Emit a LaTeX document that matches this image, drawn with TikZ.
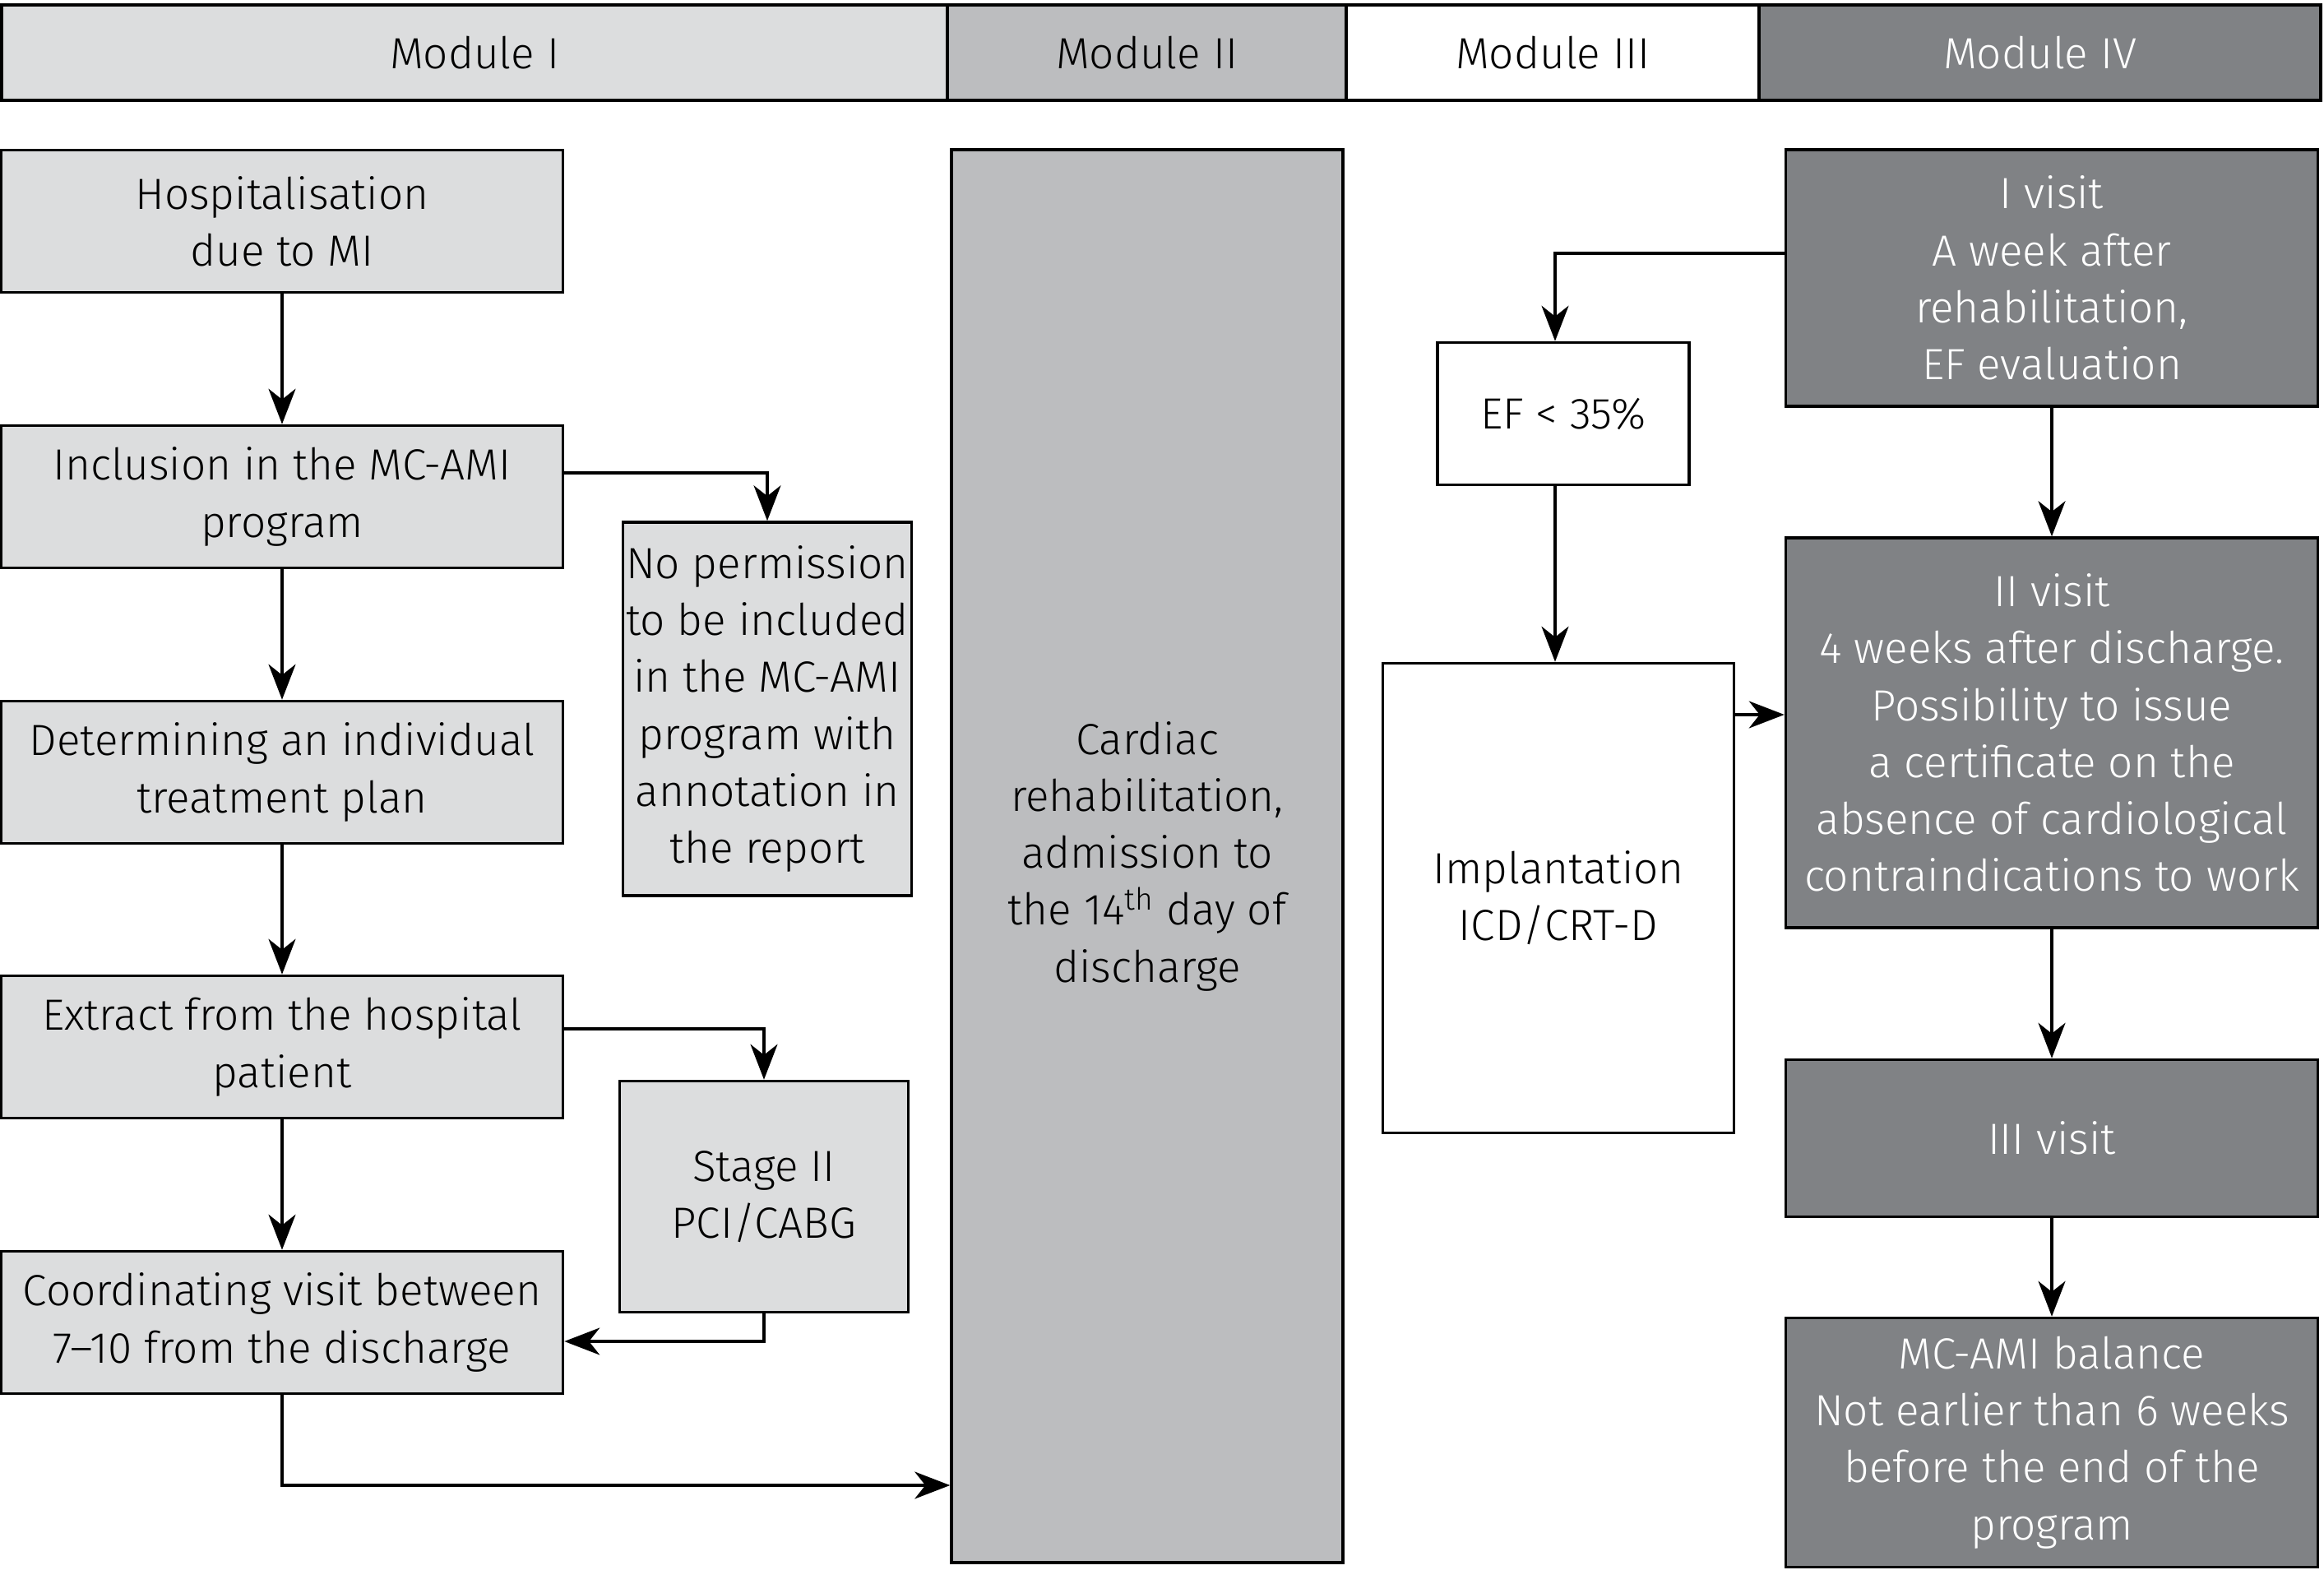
\documentclass[tikz,border=0pt]{standalone}
\usepackage{fontspec}
\setmainfont{Fira Sans}[UprightFont=* Light]
\usepackage{tikz}
\usetikzlibrary{arrows.meta,positioning,calc}
\definecolor{lgray}{HTML}{DCDDDE}
\definecolor{mgray}{HTML}{BCBDBF}
\definecolor{dgray}{HTML}{808285}
\tikzstyle{box}=[draw,line width=1pt,rectangle,align=center,inner sep=1pt,font=\fontsize{15.1}{19.7}\selectfont]
\tikzstyle{lbox}=[box,fill=lgray]
\tikzstyle{dbox}=[box,fill=dgray,text=white]
\tikzstyle{hdr}=[box,line width=1.2pt,minimum height=1.16cm]
\tikzstyle{arr}=[line width=0.9pt,-{Stealth[length=4.3mm,width=3.3mm,inset=1.3mm]}]

\begin{document}
\begin{tikzpicture}[x=1cm,y=-1cm]
      \useasboundingbox (0,0) rectangle (28.26,19.09);

      % module headers
      \node[hdr, fill=lgray, minimum width=11.50cm] at (5.77, 0.64) (m1) {Module I};
      \node[hdr, fill=mgray, minimum width=4.85cm] at (13.945, 0.64) (m2) {Module II};
      \node[hdr, fill=white, minimum width=5.02cm] at (18.88, 0.64) (m3) {Module III};
      \node[hdr, fill=dgray, text=white, minimum width=6.83cm] at (24.805, 0.64) (m4) {Module IV};

      % module I
      \node[lbox, minimum width=6.83cm, minimum height=1.73cm] at (3.43, 2.69) (hosp) {Hospitalisation\\due to MI};
      \node[lbox, minimum width=6.83cm, minimum height=1.73cm] at (3.43, 6.04) (incl) {Inclusion in the MC-AMI\\program};
      \node[lbox, minimum width=6.83cm, minimum height=1.73cm] at (3.43, 9.39) (plan) {Determining an individual\\treatment plan};
      \node[lbox, minimum width=6.83cm, minimum height=1.73cm] at (3.43, 12.73) (extr) {Extract from the hospital\\patient};
      \node[lbox, minimum width=6.83cm, minimum height=1.73cm] at (3.43, 16.08) (coord) {Coordinating visit between\\7--10 from the discharge};
      \node[lbox, minimum width=3.51cm, minimum height=4.54cm] at (9.33, 8.62) (noperm) {No permission\\to be included\\in the MC-AMI\\program with\\annotation in\\the report};
      \node[lbox, minimum width=3.51cm, minimum height=2.81cm] at (9.29, 14.55) (stage) {Stage II\\PCI/CABG};

      % module II
      \node[box, fill=mgray, minimum width=4.76cm, minimum height=17.18cm] at (13.95, 10.41) (rehab) {Cardiac\\rehabilitation,\\admission to\\the 14\textsuperscript{th} day of\\discharge};

      % module III
      \node[box, fill=white, minimum width=3.06cm, minimum height=1.73cm] at (19.01, 5.03) (ef) {EF < 35\%};
      \node[box, fill=white, minimum width=4.27cm, minimum height=5.71cm] at (18.95, 10.92) (impl) {Implantation\\ICD/CRT-D};

      % module IV
      \node[dbox, minimum width=6.47cm, minimum height=3.12cm] at (24.95, 3.38) (v1) {I visit\\A week after\\rehabilitation,\\EF evaluation};
      \node[dbox, minimum width=6.47cm, minimum height=4.74cm] at (24.95, 8.91) (v2) {II visit\\4 weeks after discharge.\\Possibility to issue\\a certificate on the\\absence of cardiological\\contraindications to work};
      \node[dbox, minimum width=6.47cm, minimum height=1.91cm] at (24.95, 13.84) (v3) {III visit};
      \node[dbox, minimum width=6.47cm, minimum height=3.03cm] at (24.95, 17.54) (bal) {MC-AMI balance\\Not earlier than 6 weeks\\before the end of the\\program};

      \draw[arr] (hosp) -- (incl);
      \draw[arr] (incl) -- (plan);
      \draw[arr] (plan) -- (extr);
      \draw[arr] (extr) -- (coord);
      \draw[arr] ([yshift=2.9mm]incl.east) -| (noperm.north);
      \draw[arr] ([yshift=2.2mm]extr.east) -| (stage.north);
      \draw[arr] (stage.south) |- ([yshift=-2.3mm]coord.east);
      \draw[arr] (coord.south) |- ([yshift=-7.65cm]rehab.west);

      \draw[arr] ([yshift=3mm]v1.west) -| ([xshift=-1mm]ef.north);
      \draw[arr] ([xshift=-1mm]ef.south) -- ([xshift=-1mm]ef.south |- impl.north);
      \draw[arr] ([yshift=2.23cm]impl.east) coordinate (ie) -- (ie -| v2.west);
      \draw[arr] (v1) -- (v2);
      \draw[arr] (v2) -- (v3);
      \draw[arr] (v3) -- (bal);
\end{tikzpicture}
\end{document}
